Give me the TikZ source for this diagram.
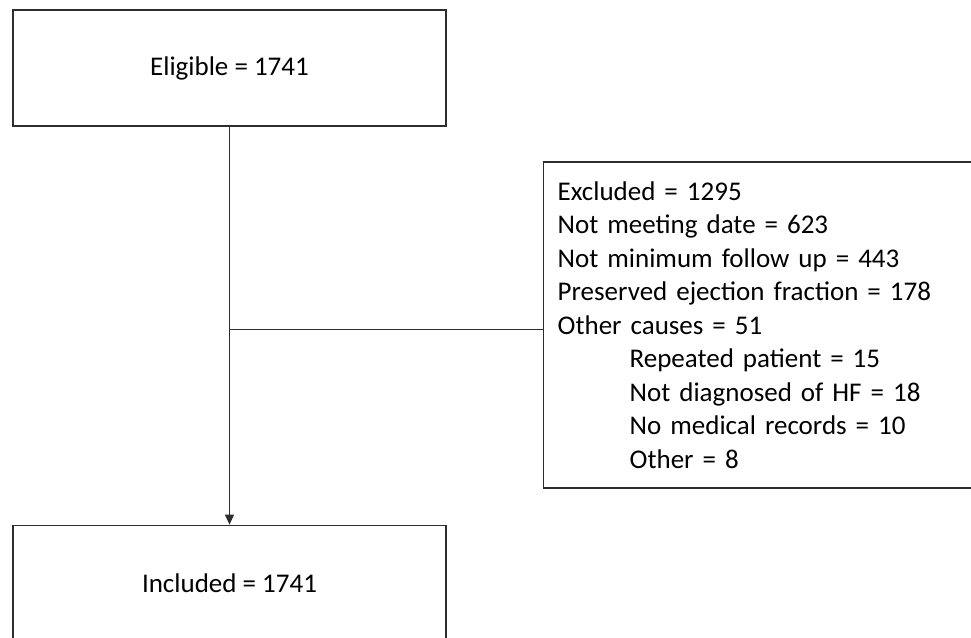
\documentclass[tikz,border=0pt]{standalone}
\usepackage{fontspec}
\setmainfont{Carlito}
\usetikzlibrary{arrows.meta, positioning, calc}
\definecolor{boxline}{RGB}{45,45,45}

\begin{document}
\begin{tikzpicture}[x=1pt, y=1pt,
				node distance=398pt,
				box/.style={rectangle, draw=boxline, line width=1.3pt, minimum width=433pt,
					minimum height=116pt, align=center, font=\fontsize{27}{33.5}\selectfont},
				listbox/.style={rectangle, draw=boxline, line width=1.3pt, text width=412pt,
					inner xsep=14pt, minimum height=326pt, align=left, font=\fontsize{27}{33.5}\selectfont},
				arrow/.style={-{Triangle[length=10pt, width=9pt]}, line width=1pt, color=boxline},
				link/.style={line width=1pt, color=boxline}
				]
				\useasboundingbox (0,0) rectangle (971,637);
				\node[box] (eligible) at (229.5,569) {Eligible = 1741};
				\node[box, below=of eligible] (included) {Included = 1741};
				\node[listbox, anchor=west] (excluded) at (543,312) {Excluded = 1295\\
					Not meeting date = 623\\
					Not minimum follow up = 443\\
					Preserved ejection fraction = 178\\
					Other causes = 51\\
					\hspace*{72pt}Repeated patient = 15\\
					\hspace*{72pt}Not diagnosed of HF = 18\\
					\hspace*{72pt}No medical records = 10\\
					\hspace*{72pt}Other = 8};
				\coordinate[below=5pt of excluded.west] (branch);

				\draw[arrow] (eligible) -- (included);
				\draw[link] (branch) -- (branch -| eligible.south);
			\end{tikzpicture}
\end{document}
